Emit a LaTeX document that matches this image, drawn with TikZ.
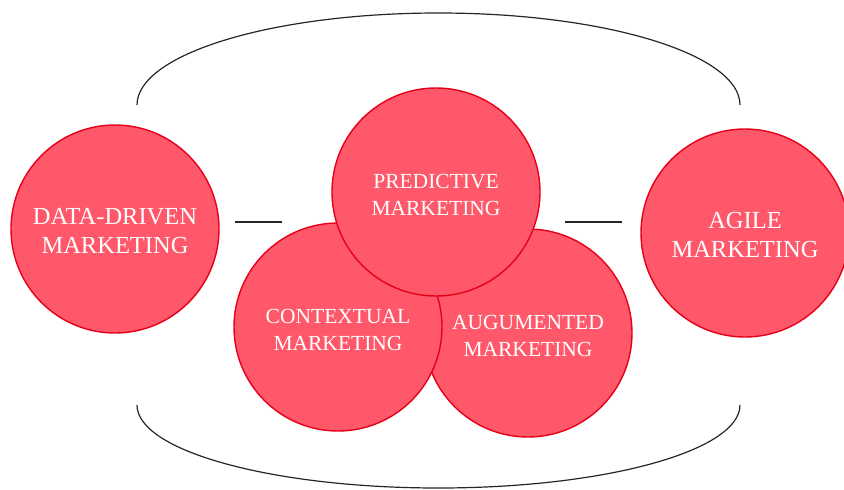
\documentclass[tikz,border=0pt]{standalone}
\usepackage{fontspec}
\setmainfont{Liberation Serif}
\definecolor{cfill}{RGB}{255,88,106}
\definecolor{cline}{RGB}{230,0,25}
\tikzset{
  bubble/.style={circle, fill=cfill, draw=cline, line width=1.4pt, minimum size=208pt, inner sep=0pt},
  bigtxt/.style={align=center, text=white, yshift=-2.5pt, font=\fontsize{24.5}{29}\selectfont},
  smalltxt/.style={align=center, text=white, yshift=-2.5pt, font=\fontsize{21.5}{27}\selectfont},
  brace/.style={draw=black!85, line width=1.2pt},
  link/.style={draw=black!85, line width=1.2pt}
}
\begin{document}
\begin{tikzpicture}[x=1pt,y=-1pt]
\useasboundingbox (0,0) rectangle (844,490);
% arcs
\coordinate (tl) at (137,105);
\coordinate (bl) at (137,405);
\draw[brace] (tl) arc[start angle=180, end angle=0, x radius=301.5, y radius=-92];
\draw[brace] (bl) arc[start angle=180, end angle=360, x radius=301.5, y radius=-83];
% circles
\node[bubble, label={[bigtxt]center:DATA-DRIVEN\\MARKETING}] (data) at (115,229) {};
\node[bubble, label={[bigtxt]center:AGILE\\MARKETING}] (agile) at (745,233) {};
\node[bubble, label={[smalltxt]center:AUGUMENTED\\MARKETING}] (aug) at (528,333) {};
\node[bubble, label={[smalltxt]center:CONTEXTUAL\\MARKETING}] (ctx) at (338,327) {};
\node[bubble, label={[smalltxt]center:PREDICTIVE\\MARKETING}] (pred) at (436,192) {};
% links
\coordinate (l1a) at (235,222);
\coordinate (l1b) at (282,222);
\coordinate (l2a) at (565,222);
\coordinate (l2b) at (622,222);
\draw[link] (l1a) -- (l1b);
\draw[link] (l2a) -- (l2b);
\end{tikzpicture}
\end{document}
